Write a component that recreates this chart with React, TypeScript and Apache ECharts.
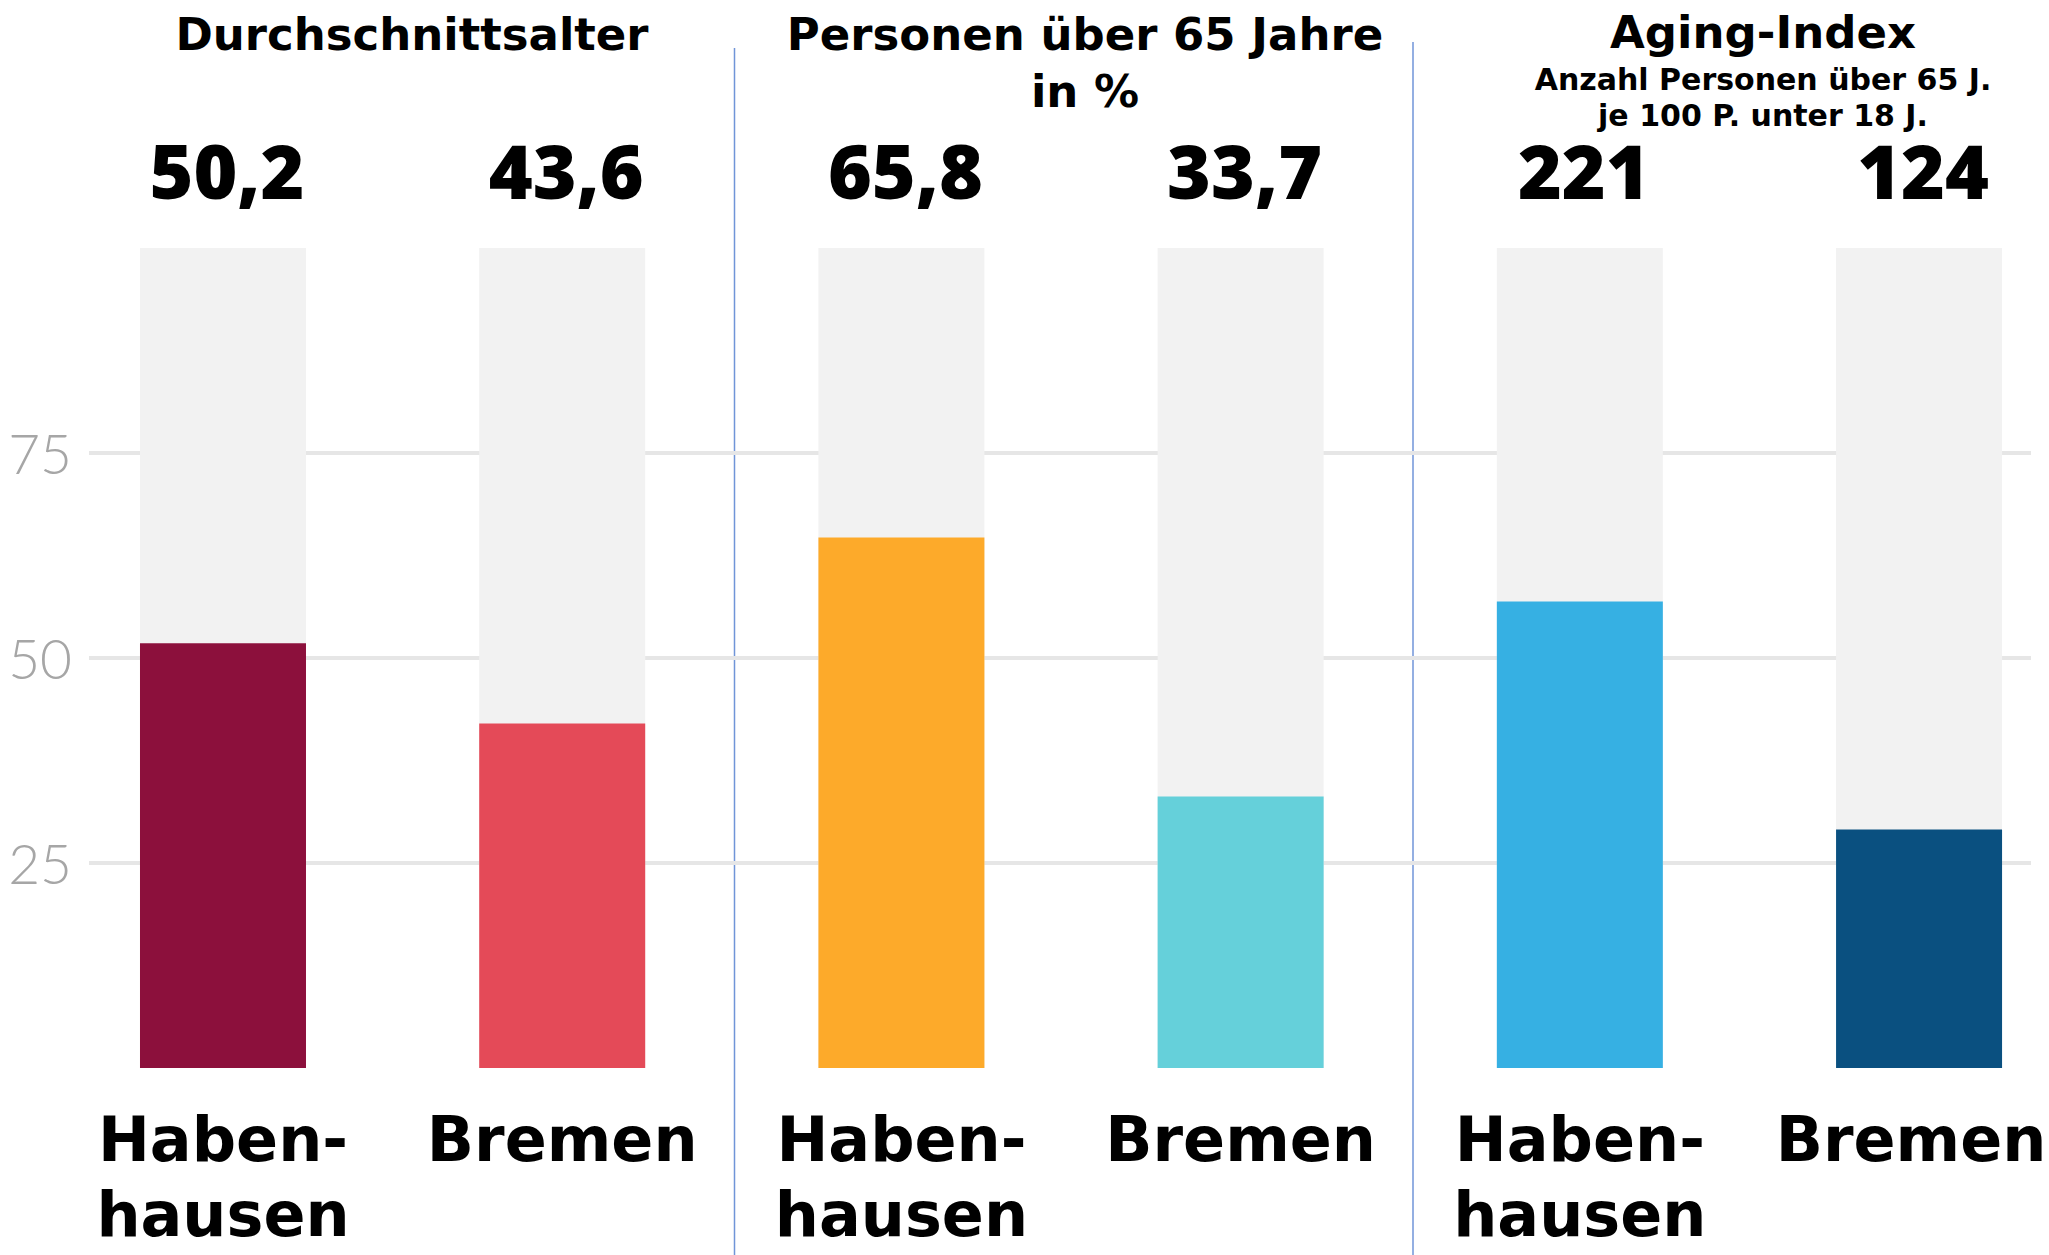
import React, { useEffect, useRef } from 'react';
import * as echarts from 'echarts';

// ---- data ----
const categories = ['Haben-\nhausen', 'Bremen', 'Haben-\nhausen', 'Bremen', 'Haben-\nhausen', 'Bremen'];
const xPositions = [0, 1, 2, 3, 4, 5];
const barValues = [51.8, 42.0, 64.7, 33.1, 56.9, 29.1];
const backgroundValues = [100, 100, 100, 100, 100, 100];
const valueLabels = ['50,2', '43,6', '65,8', '33,7', '221', '124'];
const barColors = ['#8c103c', '#e44a58', '#fdaa2a', '#65d0da', '#36b0e3', '#0a5080'];
const yMin = 0;
const yMax = 100;
const yInterval = 25;
const panelTitles = ['Durchschnittsalter', 'Personen über 65 Jahre\nin %', 'Aging-Index'];
const panelSubtitles = ['', '', 'Anzahl Personen über 65 J.\nje 100 P. unter 18 J.'];

const TEXT_FONT = "'DejaVu Sans', sans-serif";
const NUM_FONT = "'Open Sans', sans-serif";

export default function App() {
  const ref = useRef<HTMLDivElement>(null);

  useEffect(() => {
    document.body.style.margin = '0';
    const chart = echarts.init(ref.current!, null, { renderer: 'svg' });

    const titleX = [412, 1085, 1763];
    const titleTop = [6, 6, 4];

    const graphic: any[] = [];
    panelTitles.forEach((t, i) => {
      graphic.push({
        type: 'text',
        x: titleX[i],
        y: titleTop[i],
        style: {
          text: t,
          align: 'center',
          verticalAlign: 'top',
          fontSize: 45,
          lineHeight: 57,
          fontWeight: 'bold',
          fontFamily: TEXT_FONT,
          fill: '#000',
        },
      });
      if (panelSubtitles[i]) {
        graphic.push({
          type: 'text',
          x: titleX[i],
          y: 61,
          style: {
            text: panelSubtitles[i],
            align: 'center',
            verticalAlign: 'top',
            fontSize: 30,
            lineHeight: 36,
            fontWeight: 'bold',
            fontFamily: TEXT_FONT,
            fill: '#000',
          },
        });
      }
    });
    // panel dividers
    graphic.push({
      type: 'line',
      shape: { x1: 734.5, y1: 48, x2: 734.5, y2: 1255 },
      style: { stroke: '#7095d8', lineWidth: 1.5 },
    });
    graphic.push({
      type: 'line',
      shape: { x1: 1413, y1: 42, x2: 1413, y2: 1255 },
      style: { stroke: '#7095d8', lineWidth: 1.5 },
    });

    const option: any = {
      animation: false,
      backgroundColor: '#ffffff',
      grid: { left: 89, right: 18, top: 248, bottom: 187, containLabel: false },
      xAxis: {
        type: 'value',
        min: -0.395,
        max: 5.33,
        show: false,
      },
      yAxis: {
        type: 'value',
        min: yMin,
        max: yMax,
        interval: yInterval,
        axisLine: { show: false },
        axisTick: { show: false },
        axisLabel: {
          margin: 17,
          fontSize: 55,
          fontFamily: "'Lato', sans-serif",
          fontWeight: 300,
          color: '#a6a6a6',
          showMinLabel: false,
          showMaxLabel: false,
          formatter: (v: number) => (v === yMin || v === yMax ? '' : String(v)),
        },
        splitLine: {
          show: true,
          showMinLine: false,
          showMaxLine: false,
          lineStyle: { color: '#e6e6e6', width: 4 },
        },
      },
      series: [
        {
          type: 'bar',
          name: 'background',
          data: xPositions.map((x, i) => [x, backgroundValues[i]]),
          barWidth: 166,
          barGap: '-100%',
          itemStyle: { color: '#f2f2f2' },
          silent: true,
          z: 2,
          label: {
            show: true,
            position: 'top',
            distance: 40,
            offset: [4, 0],
            formatter: (p: any) => valueLabels[p.dataIndex],
            fontSize: 75,
            lineHeight: 76,
            fontWeight: 800,
            fontFamily: NUM_FONT,
            color: '#000',
          },
        },
        {
          type: 'bar',
          name: 'value',
          data: xPositions.map((x, i) => ({
            value: [x, barValues[i]],
            itemStyle: { color: barColors[i] },
            label: i === xPositions.length - 1 ? { offset: [-8, 0] } : undefined,
          })),
          barWidth: 166,
          barGap: '-100%',
          z: 3,
          label: {
            show: true,
            position: 'bottom',
            distance: 34,
            formatter: (p: any) => categories[p.dataIndex],
            fontSize: 62,
            lineHeight: 75,
            fontWeight: 'bold',
            fontFamily: TEXT_FONT,
            color: '#000',
            align: 'center',
          },
        },
      ],
      graphic,
    };

    chart.setOption(option);
    return () => chart.dispose();
  }, []);

  return <div ref={ref} style={{ width: 2049, height: 1255 }} />;
}
